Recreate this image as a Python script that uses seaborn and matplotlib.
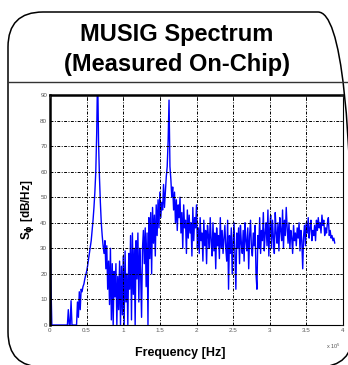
import numpy as np
import pandas as pd
import matplotlib
matplotlib.use("Agg")
import matplotlib.pyplot as plt
from matplotlib.patches import FancyBboxPatch
from matplotlib.lines import Line2D
from matplotlib.transforms import IdentityTransform
import seaborn as sns

# ---------------- data ----------------
FREQ_STEP_HZ = 1250.0
SPECTRUM_DB = [
    45, 17, 0, 0, 0, 0, 0, 0, 0, 0, 0, 0, 0, 0, 0, 0,
    0, 0, 0, 0, 6, 0, 0, 9.5, 0, 0, 0, 0, 0, 0, 9, 3,
    13, 6, 14, 13, 15, 16, 18, 19.5, 21, 23, 25.5, 28, 30.5, 33, 37, 41,
    46, 52, 60, 75, 100, 72, 58, 48, 40, 35, 31, 28, 33, 22, 31, 14,
    25, 8, 30, 2, 24, 0, 21, 11, 24, 0, 19, 6, 25, 0, 23, 4,
    27, 0, 29, 9, 20, 0, 28, 14, 35, 2, 36, 12, 30, 0, 33, 18,
    36, 9, 30, 20, 3, 30, 37, 24, 38, 15, 36, 0, 42, 26, 44, 20,
    46, 32, 43, 27, 47, 35, 49, 38, 52, 42, 48, 45, 55, 46, 52, 58,
    62, 72, 88, 62, 57, 50, 54, 45, 52, 40, 49, 37, 47, 42, 50, 36,
    44, 30, 47, 38, 41, 28, 45, 34, 43, 36, 40, 27, 46, 33, 42, 38,
    47, 30, 38, 28, 42, 33, 36, 25, 41, 31, 37, 24, 39, 35, 30, 42,
    33, 27, 40, 29, 36, 22, 38, 31, 35, 26, 42, 30, 37, 28, 34, 39,
    30, 25, 41, 14, 35, 28, 38, 20, 33, 40, 27, 14, 36, 30, 38, 24,
    39, 32, 28, 37, 25, 40, 33, 29, 38, 22, 35, 41, 30, 27, 36, 31,
    39, 20, 14, 35, 30, 42, 28, 37, 33, 44, 29, 36, 40, 31, 45, 27,
    38, 43, 30, 41, 34, 28, 44, 36, 32, 40, 29, 42, 37, 33, 45, 30,
    41, 35, 46, 38, 32, 40, 30, 37, 34, 28, 39, 33, 36, 31, 38, 34,
    40, 29, 37, 33, 22, 35, 39, 31, 40, 36, 42, 34, 38, 41, 33, 37,
    35, 39, 33, 41, 37, 42, 38, 40, 36, 43, 39, 41, 35, 38, 36, 40,
    42, 35, 37, 34, 35, 33, 34, 32,
]
FREQ_HZ = [i * FREQ_STEP_HZ for i in range(len(SPECTRUM_DB))]

X_TICKS = [0, 0.5e5, 1e5, 1.5e5, 2e5, 2.5e5, 3e5, 3.5e5, 4e5]
X_TICK_LABELS = ["0", "0.5", "1", "1.5", "2", "2.5", "3", "3.5", "4"]
Y_TICKS = [0, 10, 20, 30, 40, 50, 60, 70, 80, 90]
TITLE_LINES = ["MUSIG Spectrum", "(Measured On-Chip)"]
XLABEL = "Frequency [Hz]"
YLABEL = r"S$_{\mathbf{\phi}}$ [dB/Hz]"

df = pd.DataFrame({"freq": FREQ_HZ, "sphi": SPECTRUM_DB})

# ---------------- figure ----------------
sns.set_style("white")
plt.rcParams["font.family"] = ["Liberation Sans", "DejaVu Sans"]
plt.rcParams["text.color"] = "black"

W, H = 348, 365
fig = plt.figure(figsize=(W / 100, H / 100), dpi=100)
fig.patch.set_facecolor("white")

ax = fig.add_axes([50 / W, (H - 325) / H, (343 - 50) / W, (325 - 95) / H])
sns.lineplot(data=df, x="freq", y="sphi", ax=ax, color="#0000ff",
             linewidth=1.0, estimator=None, sort=False)

ax.set_xlim(0, 4e5)
ax.set_ylim(0, 90)
ax.set_xticks(X_TICKS)
ax.set_xticklabels(X_TICK_LABELS)
ax.set_yticks(Y_TICKS)
ax.tick_params(axis="both", direction="in", length=2.5, width=0.6,
               labelsize=4.5, labelcolor="#555555", pad=2,
               top=True, right=True)
ax.grid(True, color="black", linestyle=(0, (3, 1.5, 1, 1.5)), linewidth=0.7)
ax.set_axisbelow(False)
for side, lw in [("left", 1.8), ("top", 1.8), ("right", 0.8), ("bottom", 0.8)]:
    ax.spines[side].set_visible(True)
    ax.spines[side].set_linewidth(lw)
    ax.spines[side].set_color("black")
ax.set_xlabel("")
ax.set_ylabel("")

# exponent label
fig.text(333 / W, (H - 346) / H, r"x 10$^5$", fontsize=4, color="#555555",
         ha="center", va="center")

# axis labels
fig.text(180 / W, (H - 353) / H, XLABEL, fontsize=9, fontweight="bold",
         color="black", ha="center", va="center")
fig.text(27 / W, (H - 210) / H, YLABEL, fontsize=8.5, fontweight="bold",
         color="black", ha="center", va="center", rotation=90)

# title
fig.text(177 / W, (H - 35) / H, TITLE_LINES[0], fontsize=17,
         fontweight="bold", color="black", ha="center", va="center")
fig.text(177 / W, (H - 64) / H, TITLE_LINES[1], fontsize=17,
         fontweight="bold", color="black", ha="center", va="center")

# slide frame
box = FancyBboxPatch((8, -2), 345, 355,
                     boxstyle="round,pad=0,rounding_size=35",
                     transform=IdentityTransform(), fill=False,
                     edgecolor="black", linewidth=1.1)
fig.patches.append(box)
fig.lines.append(Line2D([8, 348], [H - 82, H - 82], transform=IdentityTransform(),
                        color="#333333", linewidth=1.0))

fig.savefig("out.png", dpi=100)
